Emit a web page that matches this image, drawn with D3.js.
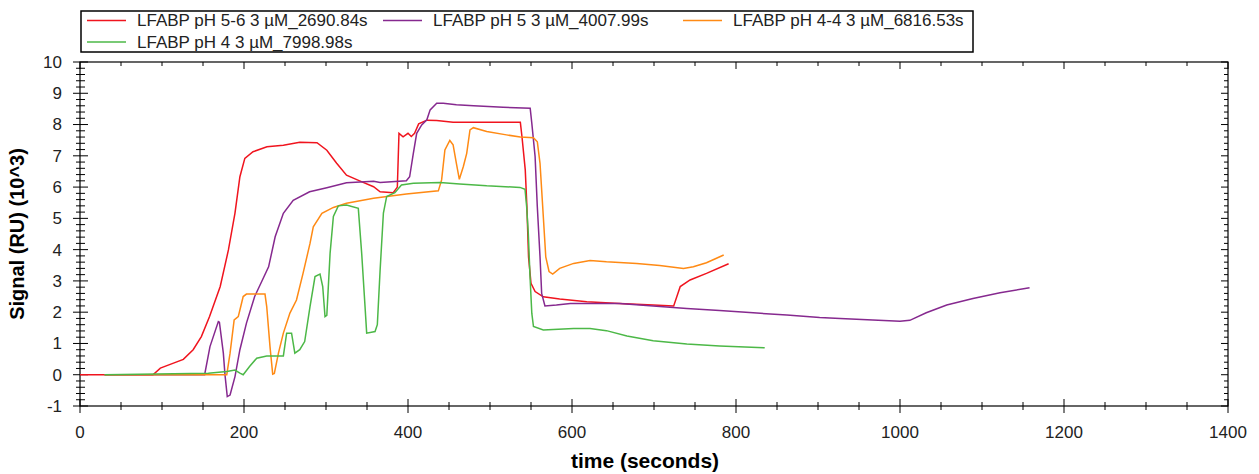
<!DOCTYPE html>
<html>
<head>
<meta charset="utf-8">
<script src="https://cdn.jsdelivr.net/npm/d3@7"></script>
<style>
body { margin: 0; background: #fff; }
text { font-family: "Liberation Sans", Arial, sans-serif; }
</style>
</head>
<body>
<div id="chart"></div>
<script>
var width = 1259, height = 474;

// series names + colours
var seriesNames = ["LFABP pH 5-6 3 \u00b5M_2690.84s", "LFABP pH 5 3 \u00b5M_4007.99s",
                   "LFABP pH 4-4 3 \u00b5M_6816.53s", "LFABP pH 4 3 \u00b5M_7998.98s"];
var seriesColors = ["#f0141e", "#86298f", "#ff8a14", "#4cb847"];

// [time, signal]
var ph56 = [[0,0],[89,0],[98,0.21],[114,0.37],[126,0.49],[138,0.8],[148,1.22],[158,1.86],[171,2.82],
  [181,3.99],[189,5.17],[195,6.33],[201,6.92],[211,7.13],[228,7.29],[248,7.34],[268,7.43],[289,7.42],
  [301,7.18],[313,6.76],[325,6.38],[341,6.2],[358,6.01],[366,5.85],[382,5.82],[387,6.0],[389,7.72],
  [394,7.61],[400,7.72],[404,7.62],[408,7.72],[413,8.02],[423,8.14],[435,8.13],[455,8.07],[537,8.07],
  [539,7.61],[543,6.55],[545,5.37],[547,3.77],[550,2.92],[555,2.66],[565,2.49],[585,2.42],[618,2.33],
  [658,2.28],[699,2.23],[724,2.2],[732,2.82],[744,3.03],[764,3.24],[791,3.55]];

var ph5 = [[30,0],[152,0],[158.5,0.9],[168.7,1.7],[170,1.68],[174.8,0.69],[176.8,0],[179.6,-0.7],[183,-0.65],
  [189,-0.06],[195,0.8],[203,1.65],[213,2.5],[230,3.45],[238,4.41],[248,5.16],[260,5.58],[280,5.85],
  [301,5.98],[325,6.14],[358,6.19],[366,6.15],[398,6.2],[402,6.33],[406.5,7.08],[410.6,7.72],[416.7,7.99],
  [423,8.15],[427,8.47],[435,8.68],[443,8.68],[459,8.63],[480,8.6],[516,8.55],[549,8.52],[551,8.04],
  [555,6.98],[557.7,5.37],[561,3.77],[563,2.6],[567,2.2],[581,2.23],[598,2.28],[658,2.28],[699,2.2],
  [740,2.12],[780,2.05],[821,1.98],[862,1.91],[902,1.83],[927,1.8],[1000,1.71],[1012,1.74],[1032,1.98],
  [1057,2.23],[1089,2.44],[1122,2.62],[1158,2.78]];

var ph44 = [[30,0],[179,0],[183,0.69],[188,1.75],[193,1.86],[195,2.07],[199,2.5],[203,2.58],[225.6,2.58],
  [227.7,2.18],[231.7,0.9],[235,0.02],[237,0.04],[242,0.69],[248,1.33],[256,1.97],[264,2.39],[272,3.24],
  [280.5,4.2],[284.5,4.73],[295,5.16],[309,5.35],[325,5.48],[358,5.64],[398,5.78],[437,5.88],[441,6.23],
  [445,7.19],[451,7.49],[455,7.35],[459,6.76],[462.6,6.25],[467.5,6.66],[471.6,7.08],[475.6,7.83],
  [479.7,7.9],[496,7.78],[520,7.67],[537,7.6],[553,7.58],[557.7,7.45],[561,6.76],[565,5.06],[568,3.77],
  [572,3.3],[576.5,3.22],[585,3.4],[602,3.56],[622,3.65],[642,3.61],[679,3.56],[707,3.49],[736,3.4],
  [748,3.45],[764,3.58],[785,3.83]];

var ph4 = [[30,0],[156.5,0.05],[179,0.1],[189,0.15],[195,0.05],[199,0],[207,0.27],[215.5,0.53],[227.7,0.6],
  [248,0.6],[252,1.33],[258,1.33],[262,0.69],[268,0.8],[274,1.06],[280.5,2.18],[286.6,3.14],[292.7,3.22],
  [296,2.82],[298.8,1.86],[301,1.9],[305,3.89],[309,5.06],[315,5.4],[325,5.43],[339.4,5.32],[343.5,3.89],
  [347.6,2.18],[349.6,1.33],[359.8,1.38],[362.6,1.6],[366,3.35],[370,5.17],[374,5.7],[384,5.82],[392,6.07],
  [406.5,6.12],[439,6.15],[463,6.1],[496,6.04],[536.6,5.99],[542.7,5.93],[544.7,5.37],[546.7,4.52],
  [548.8,3.14],[551,1.96],[553,1.54],[565,1.43],[577,1.45],[602,1.48],[622,1.48],[642,1.41],[667,1.24],
  [699,1.09],[740,0.98],[780,0.92],[835,0.86]];

var allSeries = [ph56, ph5, ph44, ph4];

var xTicks = [0, 200, 400, 600, 800, 1000, 1200, 1400];
var yTicks = [-1, 0, 1, 2, 3, 4, 5, 6, 7, 8, 9, 10];

var x = d3.scaleLinear().domain([0, 1400]).range([80, 1228]);
var y = d3.scaleLinear().domain([-1, 10]).range([406, 62]);

var svg = d3.select("#chart").append("svg")
    .attr("width", width).attr("height", height);

// frame
svg.append("rect")
    .attr("x", x(0)).attr("y", y(10))
    .attr("width", x(1400) - x(0)).attr("height", y(-1) - y(10))
    .attr("fill", "none").attr("stroke", "#000").attr("stroke-width", 1.2);

var minorX = d3.range(0, 1401, 50);
var minorY = d3.range(-1, 10.01, 0.2).map(function(d) { return +d.toFixed(1); });

// bottom axis ticks (cross the axis)
svg.append("g").selectAll("line").data(minorX).join("line")
    .attr("x1", d => x(d)).attr("x2", d => x(d))
    .attr("y1", d => y(-1) - (d % 200 == 0 ? 7 : 4))
    .attr("y2", d => y(-1) + (d % 200 == 0 ? 7 : 4))
    .attr("stroke", "#000").attr("stroke-width", 1);

// top ticks (inward)
svg.append("g").selectAll("line").data(minorX).join("line")
    .attr("x1", d => x(d)).attr("x2", d => x(d))
    .attr("y1", y(10)).attr("y2", d => y(10) + (d % 200 == 0 ? 7 : 4))
    .attr("stroke", "#000").attr("stroke-width", 1);

// left axis ticks (cross)
svg.append("g").selectAll("line").data(minorY).join("line")
    .attr("y1", d => y(d)).attr("y2", d => y(d))
    .attr("x1", d => x(0) - (Number.isInteger(d) ? 7 : 4))
    .attr("x2", d => x(0) + (Number.isInteger(d) ? 8 : 5))
    .attr("stroke", "#000").attr("stroke-width", 1);

// right ticks (inward)
svg.append("g").selectAll("line").data(minorY).join("line")
    .attr("y1", d => y(d)).attr("y2", d => y(d))
    .attr("x1", x(1400)).attr("x2", d => x(1400) - (Number.isInteger(d) ? 7 : 4))
    .attr("stroke", "#000").attr("stroke-width", 1);

// tick labels
svg.append("g").selectAll("text").data(xTicks).join("text")
    .attr("x", d => x(d)).attr("y", 438)
    .attr("text-anchor", "middle")
    .attr("font-size", 17).attr("fill", "#222")
    .text(d => d);

svg.append("g").selectAll("text").data(yTicks).join("text")
    .attr("x", 62).attr("y", d => y(d))
    .attr("dy", "0.35em")
    .attr("text-anchor", "end")
    .attr("font-size", 17).attr("fill", "#222")
    .text(d => d);

// axis titles
svg.append("text")
    .attr("x", 645).attr("y", 468)
    .attr("text-anchor", "middle")
    .attr("font-size", 21).attr("font-weight", "bold")
    .text("time (seconds)");

svg.append("text")
    .attr("transform", "translate(24,234) rotate(-90)")
    .attr("text-anchor", "middle")
    .attr("font-size", 20).attr("font-weight", "bold")
    .text("Signal (RU) (10^3)");

// curves
var line = d3.line()
    .x(d => x(d[0]))
    .y(d => y(d[1]));

svg.append("g").selectAll("path").data(allSeries).join("path")
    .attr("d", line)
    .attr("fill", "none")
    .attr("stroke", (d, i) => seriesColors[i])
    .attr("stroke-width", 1.5);

// legend
var legendPos = [[87, 20.5], [383, 20.5], [683, 20.5], [87, 42]];

svg.append("rect")
    .attr("x", 81).attr("y", 11).attr("width", 892).attr("height", 41)
    .attr("fill", "#fff").attr("stroke", "#000").attr("stroke-width", 1.5);

var leg = svg.append("g").selectAll("g").data(seriesNames).join("g")
    .attr("transform", (d, i) => "translate(" + legendPos[i][0] + "," + legendPos[i][1] + ")");

leg.append("line")
    .attr("x1", 0).attr("x2", 39)
    .attr("stroke", (d, i) => seriesColors[i]).attr("stroke-width", 1.5);

leg.append("text")
    .attr("x", 50).attr("dy", "0.35em")
    .attr("font-size", 17).attr("fill", "#222")
    .text(d => d);
</script>
</body>
</html>
